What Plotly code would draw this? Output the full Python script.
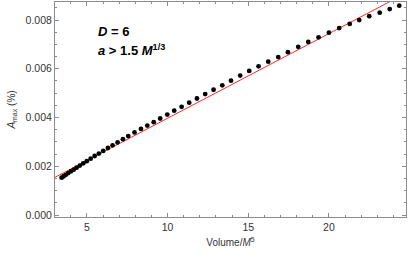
import plotly.graph_objects as go

# --- data ---
volume = [3.43, 3.56, 3.69, 3.84, 4.00, 4.18, 4.36, 4.56, 4.77, 4.99,
          5.23, 5.48, 5.74, 6.01, 6.30, 6.59, 6.90, 7.23, 7.56, 7.95,
          8.35, 8.74, 9.14, 9.54, 9.98, 10.41, 10.87, 11.34, 11.82, 12.33,
          12.85, 13.39, 13.93, 14.50, 15.06, 15.64, 16.24, 16.86, 17.46, 18.10,
          18.72, 19.36, 20.00, 20.64, 21.29, 21.88, 22.50, 23.15, 23.77, 24.36]
a_max = [0.00153, 0.00159, 0.00165, 0.00172, 0.00179, 0.00186, 0.00194, 0.00203, 0.00212, 0.00221,
         0.00231, 0.00242, 0.00252, 0.00263, 0.00275, 0.00286, 0.00298, 0.00311, 0.00324, 0.00339,
         0.00353, 0.00367, 0.00381, 0.00396, 0.00412, 0.00428, 0.00444, 0.00461, 0.00478, 0.00496,
         0.00514, 0.00532, 0.00551, 0.00572, 0.00591, 0.00610, 0.00629, 0.00648, 0.00668, 0.00690,
         0.00710, 0.00729, 0.00748, 0.00767, 0.00784, 0.00800, 0.00816, 0.00830, 0.00845, 0.00859]

# linear fit (red line), end points
fit_x = [3.0, 25.0]
fit_y = [0.00154, 0.00918]

FRAME = '#8c8c8c'
TXT = '#333333'

fig = go.Figure()
fig.add_trace(go.Scatter(x=fit_x, y=fit_y, mode='lines',
                         line=dict(color='#ff2a2a', width=1), showlegend=False))
fig.add_trace(go.Scatter(x=volume, y=a_max, mode='markers',
                         marker=dict(color='black', size=4.8), showlegend=False))

axis_common = dict(showgrid=False, zeroline=False, showline=True, linecolor=FRAME,
                   linewidth=1, mirror='allticks', ticks='inside', ticklen=4,
                   tickcolor=FRAME, automargin=False,
                   tickfont=dict(family='Liberation Sans', size=10.5, color=TXT))

fig.update_xaxes(range=[3.02, 24.78], dtick=5, tick0=0,
                 minor=dict(dtick=1, ticks='inside', ticklen=2, tickcolor=FRAME),
                 title=dict(text='Volume/<i>M</i><sup>5</sup>', standoff=7,
                            font=dict(family='Liberation Sans', size=10, color=TXT)),
                 **axis_common)
fig.update_yaxes(range=[-0.000082, 0.00874], dtick=0.002, tick0=0, tickformat='.3f',
                 minor=dict(dtick=0.0005, ticks='inside', ticklen=2, tickcolor=FRAME),
                 title=dict(text='<i>A</i><sub>max</sub> (%)', standoff=8,
                            font=dict(family='Liberation Sans', size=10, color=TXT)),
                 **axis_common)

fig.add_annotation(x=0.117, y=0.865, xref='paper', yref='paper', xanchor='left', yanchor='middle',
                   text='<b><i>D</i> = 6</b>', showarrow=False,
                   font=dict(family='Liberation Sans', size=13, color='black'))
fig.add_annotation(x=0.117, y=0.775, xref='paper', yref='paper', xanchor='left', yanchor='middle',
                   text='<b><i>a</i> > 1.5 <i>M</i><sup>1/3</sup></b>', showarrow=False,
                   font=dict(family='Liberation Sans', size=13, color='black'))

fig.update_layout(width=409, height=263, margin=dict(l=55, r=3, t=2, b=46),
                  plot_bgcolor='white', paper_bgcolor='white')

# drop the default body margin so the figure sits at the window's corner
fig.write_html('out.html', config={'displayModeBar': False},
               post_script="document.body.style.margin='0';")
